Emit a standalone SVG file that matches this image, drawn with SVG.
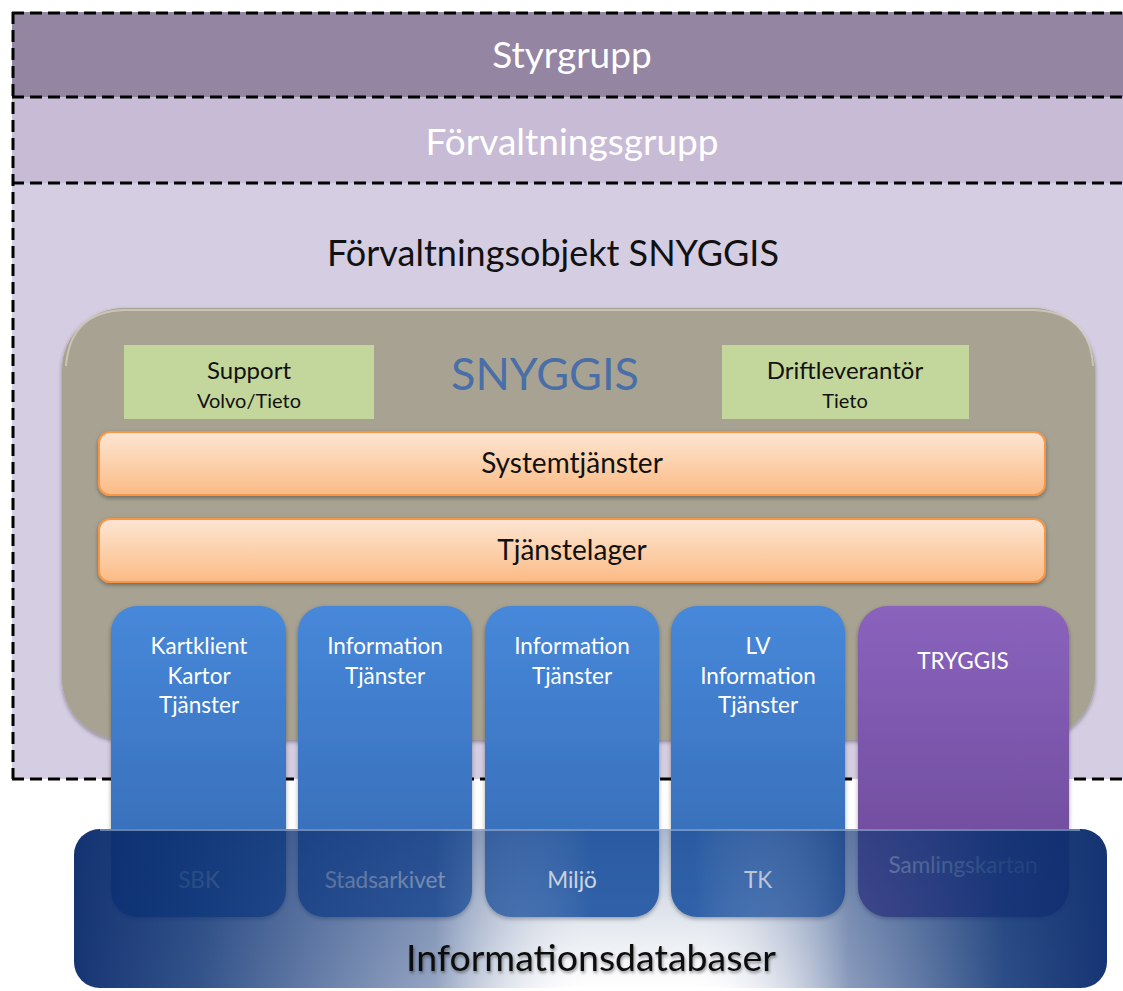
<svg xmlns="http://www.w3.org/2000/svg" width="1123" height="991" viewBox="0 0 1123 991">
<defs>
<linearGradient id="org" x1="0" y1="0" x2="0" y2="1"><stop offset="0" stop-color="#fde6d3"/><stop offset="1" stop-color="#fbbb85"/></linearGradient>
<linearGradient id="blu" x1="0" y1="0" x2="0" y2="1"><stop offset="0" stop-color="#4788da"/><stop offset="1" stop-color="#3468b0"/></linearGradient>
<linearGradient id="pur" x1="0" y1="0" x2="0" y2="1"><stop offset="0" stop-color="#8a63bd"/><stop offset="1" stop-color="#6a4796"/></linearGradient>
<linearGradient id="db" x1="0" y1="0" x2="1" y2="0">
<stop offset="0" stop-color="#0a2a6c" stop-opacity="0.95"/>
<stop offset="0.12" stop-color="#0f3576" stop-opacity="0.85"/>
<stop offset="0.35" stop-color="#2a4a86" stop-opacity="0.5"/>
<stop offset="0.5" stop-color="#ffffff" stop-opacity="0"/>
<stop offset="0.6" stop-color="#ffffff" stop-opacity="0"/>
<stop offset="0.75" stop-color="#2a4a86" stop-opacity="0.55"/>
<stop offset="0.9" stop-color="#0f3576" stop-opacity="0.88"/>
<stop offset="1" stop-color="#0a2a6c" stop-opacity="0.95"/>
</linearGradient>
<linearGradient id="dbv" x1="0" y1="0" x2="0" y2="1"><stop offset="0" stop-color="#0d2f6e" stop-opacity="0.35"/><stop offset="0.45" stop-color="#0d2f6e" stop-opacity="0.15"/><stop offset="1" stop-color="#0d2f6e" stop-opacity="0"/></linearGradient>
<filter id="sh" x="-5%" y="-5%" width="110%" height="115%"><feDropShadow dx="0" dy="2" stdDeviation="2" flood-color="#000" flood-opacity="0.35"/></filter>
<filter id="tsh" x="-5%" y="-20%" width="110%" height="150%"><feDropShadow dx="1" dy="2" stdDeviation="1.5" flood-color="#000" flood-opacity="0.4"/></filter>
</defs>
<style>
text{font-family:Lato,"Open Sans","Liberation Sans",sans-serif;text-anchor:middle}
.dash{fill:none;stroke:#000;stroke-width:3;stroke-dasharray:12 6}
.w{fill:#fff}
.k{fill:#111}
.col{font-size:22.5px;fill:#fff}
.bar{fill:url(#org);stroke:#f79646;stroke-width:2}
.grn{fill:#c3d69b}
</style>
<rect width="1123" height="991" fill="#fff"/>

<g id="styrgrupp">
<rect x="12" y="12" width="1111" height="85" fill="#9485a3"/>
<text x="572" y="68" class="w" font-size="37">Styrgrupp</text>
</g>
<g id="forvaltningsgrupp">
<rect x="12" y="97" width="1111" height="86" fill="#c8bbd6"/>
<text x="572" y="155" class="w" font-size="37">Förvaltningsgrupp</text>
</g>
<g id="forvaltningsobjekt">
<rect x="12" y="183" width="1111" height="596" fill="#d5cde2"/>
<text x="553" y="266" class="k" font-size="36">Förvaltningsobjekt SNYGGIS</text>
</g>
<g id="dashes">
<path class="dash" d="M12 13 H1123 M12 97 H1123 M12 183 H1123 M12 779 H1123 M13 12 V779"/>
</g>

<g id="snyggis">
<rect x="62" y="308" width="1033" height="432" rx="62" fill="#a8a292" filter="url(#sh)"/>
<path d="M66 366 Q70 312 124 310 H1033 Q1090 312 1093 366" fill="none" stroke="#d8d3c6" stroke-width="2" opacity="0.7"/>
<text x="545" y="390" font-size="45" fill="#4a6ea8">SNYGGIS</text>
</g>
<g id="support">
<rect x="124" y="345" width="250" height="74" class="grn"/>
<text x="249" y="379" class="k" font-size="24">Support</text>
<text x="249" y="408" class="k" font-size="20">Volvo/Tieto</text>
</g>
<g id="driftleverantor">
<rect x="722" y="345" width="247" height="74" class="grn"/>
<text x="845" y="379" class="k" font-size="24">Driftleverantör</text>
<text x="845" y="408" class="k" font-size="20">Tieto</text>
</g>
<g id="systemtjanster">
<rect x="99" y="432" width="946" height="63" rx="11" class="bar" filter="url(#sh)"/>
<text x="572" y="473" class="k" font-size="28">Systemtjänster</text>
</g>
<g id="tjanstelager">
<rect x="99" y="519" width="946" height="63" rx="11" class="bar" filter="url(#sh)"/>
<text x="572" y="560" class="k" font-size="28">Tjänstelager</text>
</g>

<g id="col-sbk">
<rect x="111" y="606" width="175" height="311" rx="26" fill="url(#blu)" filter="url(#sh)"/>
<text class="col" x="199" y="654">Kartklient</text>
<text class="col" x="199" y="684">Kartor</text>
<text class="col" x="199" y="713">Tjänster</text>
<text class="col" x="199" y="888">SBK</text>
</g>
<g id="col-stadsarkivet">
<rect x="298" y="606" width="174" height="311" rx="26" fill="url(#blu)" filter="url(#sh)"/>
<text class="col" x="385" y="654">Information</text>
<text class="col" x="385" y="684">Tjänster</text>
<text class="col" x="385" y="888">Stadsarkivet</text>
</g>
<g id="col-miljo">
<rect x="485" y="606" width="174" height="311" rx="26" fill="url(#blu)" filter="url(#sh)"/>
<text class="col" x="572" y="654">Information</text>
<text class="col" x="572" y="684">Tjänster</text>
<text class="col" x="572" y="888">Miljö</text>
</g>
<g id="col-tk">
<rect x="671" y="606" width="174" height="311" rx="26" fill="url(#blu)" filter="url(#sh)"/>
<text class="col" x="758" y="654">LV</text>
<text class="col" x="758" y="684">Information</text>
<text class="col" x="758" y="713">Tjänster</text>
<text class="col" x="758" y="888">TK</text>
</g>
<g id="col-tryggis">
<rect x="858" y="606" width="211" height="311" rx="30" fill="url(#pur)" filter="url(#sh)"/>
<text class="col" x="963" y="669">TRYGGIS</text>
<text class="col" x="963" y="873">Samlingskartan</text>
</g>

<g id="informationsdatabaser">
<rect x="74" y="829" width="1033" height="159" rx="26" fill="url(#db)"/>
<rect x="74" y="829" width="1033" height="159" rx="26" fill="url(#dbv)"/>
<path d="M100 830 H1080" stroke="#9fb6dc" stroke-width="2" opacity="0.6"/>
<text x="591" y="971" class="k" font-size="37.5" filter="url(#tsh)">Informationsdatabaser</text>
</g>
<g id="connectors"/>
</svg>
